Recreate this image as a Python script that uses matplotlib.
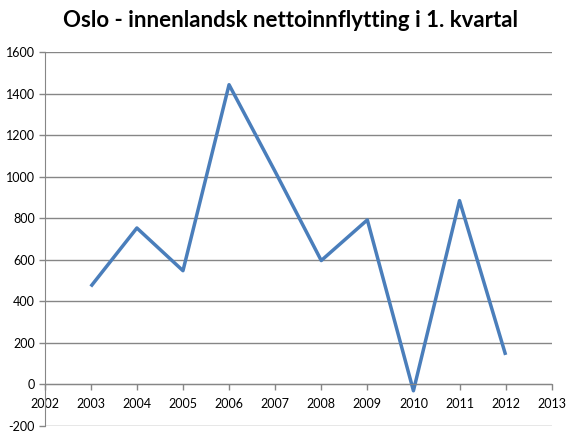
import matplotlib
matplotlib.use("Agg")
from matplotlib import pyplot as plt

plt.rcParams['font.family'] = ['Lato', 'DejaVu Sans']

years = [2003, 2004, 2005, 2006, 2007, 2008, 2009, 2010, 2011, 2012]
values = [471, 753, 547, 1444, 1025, 596, 792, -32, 885, 141]
xticks = list(range(2002, 2014))
yticks = list(range(-200, 1601, 200))

fig = plt.figure(figsize=(5.7, 4.4), dpi=100)
ax = fig.add_axes([0.0784, 0.0327, 0.8895, 0.8483])

ax.plot(years, values, color='#4A7EBB', linewidth=2.5, solid_capstyle='butt')

ax.set_xlim(2002, 2013)
ax.set_ylim(-200, 1600)
ax.set_xticks(xticks)
ax.set_yticks(yticks)
ax.set_yticklabels([str(v) for v in yticks])
ax.grid(axis='y', color='#868686', linewidth=1.0)
ax.set_axisbelow(True)

for s in ['top', 'right']:
    ax.spines[s].set_visible(False)
ax.spines['bottom'].set_position(('data', 0))
ax.spines['bottom'].set_color('#868686')
ax.spines['left'].set_color('#868686')
ax.tick_params(axis='both', colors='#868686', labelcolor='black', labelsize=9, length=4, width=1)
ax.tick_params(axis='x', pad=6)
ax.tick_params(axis='y', pad=3)

fig.text(0.51, 0.953, 'Oslo - innenlandsk nettoinnflytting i 1. kvartal',
         ha='center', va='center', fontsize=16, fontweight='bold')

fig.savefig('out.png', dpi=100)
